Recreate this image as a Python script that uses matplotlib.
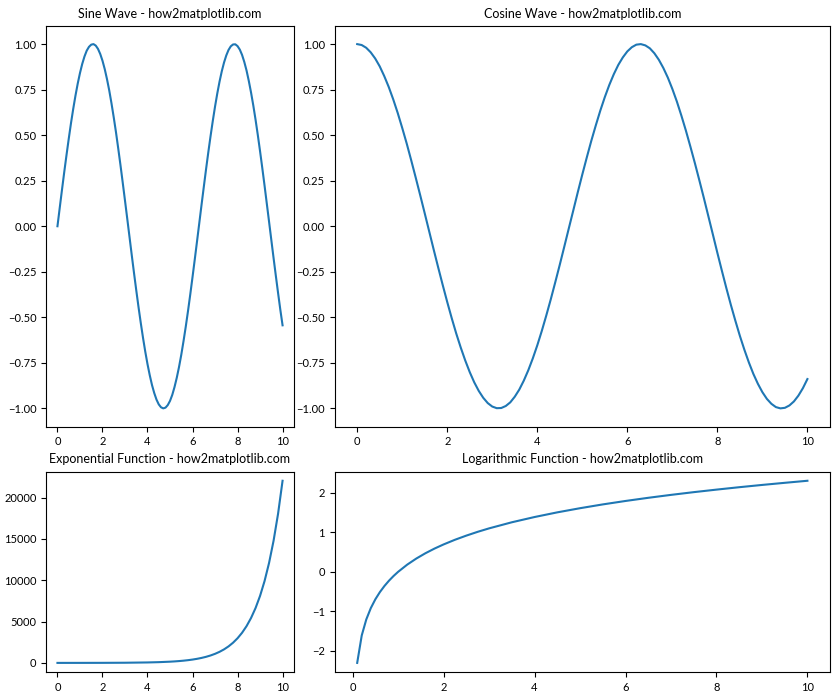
import matplotlib
matplotlib.use("Agg")

import matplotlib.pyplot as plt

plt.rcParams["font.family"] = ["Lato", "DejaVu Sans"]
plt.rcParams["font.size"] = 8

x = [i / 10 for i in range(101)]
sine = [0.000, 0.100, 0.199, 0.296, 0.389, 0.479, 0.565, 0.644, 0.717, 0.783,
        0.841, 0.891, 0.932, 0.964, 0.985, 0.997, 1.000, 0.992, 0.974, 0.946,
        0.909, 0.863, 0.808, 0.746, 0.675, 0.598, 0.516, 0.427, 0.335, 0.239,
        0.141, 0.042, -0.058, -0.158, -0.256, -0.351, -0.443, -0.530, -0.612, -0.688,
        -0.757, -0.818, -0.872, -0.916, -0.952, -0.978, -0.994, -1.000, -0.996, -0.982,
        -0.959, -0.926, -0.883, -0.832, -0.773, -0.706, -0.631, -0.551, -0.465, -0.374,
        -0.279, -0.182, -0.083, 0.017, 0.117, 0.215, 0.312, 0.405, 0.494, 0.578,
        0.657, 0.729, 0.794, 0.851, 0.899, 0.938, 0.968, 0.988, 0.998, 0.999,
        0.989, 0.970, 0.941, 0.902, 0.855, 0.798, 0.734, 0.663, 0.585, 0.501,
        0.412, 0.319, 0.223, 0.124, 0.025, -0.075, -0.174, -0.271, -0.366, -0.458,
        -0.544]
cosine = [1.000, 0.995, 0.980, 0.955, 0.921, 0.878, 0.825, 0.765, 0.697, 0.622,
          0.540, 0.454, 0.362, 0.267, 0.170, 0.071, -0.029, -0.129, -0.227, -0.323,
          -0.416, -0.505, -0.589, -0.666, -0.737, -0.801, -0.857, -0.904, -0.942, -0.971,
          -0.990, -0.999, -0.998, -0.987, -0.967, -0.936, -0.897, -0.848, -0.791, -0.726,
          -0.654, -0.575, -0.490, -0.401, -0.307, -0.211, -0.112, -0.012, 0.087, 0.187,
          0.284, 0.378, 0.469, 0.554, 0.635, 0.709, 0.776, 0.835, 0.886, 0.927,
          0.960, 0.983, 0.997, 1.000, 0.993, 0.977, 0.950, 0.914, 0.869, 0.816,
          0.754, 0.685, 0.608, 0.526, 0.438, 0.347, 0.252, 0.155, 0.055, -0.045,
          -0.146, -0.244, -0.340, -0.432, -0.519, -0.602, -0.678, -0.748, -0.811, -0.865,
          -0.911, -0.948, -0.975, -0.993, -1.000, -0.997, -0.984, -0.962, -0.930, -0.889,
          -0.839]

x_exp = [0, 1, 2, 3, 4, 4.5, 5.0, 5.2, 5.4, 5.6, 5.8, 6.0, 6.2, 6.4, 6.6, 6.8,
         7.0, 7.2, 7.4, 7.6, 7.8, 8.0, 8.2, 8.4, 8.6, 8.8, 9.0, 9.2, 9.4, 9.6,
         9.8, 10.0]
expo = [1, 2.7, 7.4, 20, 55, 90, 148, 181, 221, 270, 330, 403, 493, 602, 735,
        898, 1097, 1339, 1636, 1998, 2441, 2981, 3641, 4447, 5432, 6634, 8103,
        9897, 12088, 14765, 18034, 22026]

x_log = [0.1, 0.2, 0.3, 0.4, 0.5, 0.6, 0.7, 0.8, 0.9, 1.0, 1.2, 1.4, 1.6, 1.8,
         2.0, 2.25, 2.5, 2.75, 3.0, 3.5, 4.0, 4.5, 5.0, 5.5, 6.0, 6.5, 7.0,
         7.5, 8.0, 8.5, 9.0, 9.5, 10.0]
logv = [-2.303, -1.609, -1.204, -0.916, -0.693, -0.511, -0.357, -0.223, -0.105,
        0.000, 0.182, 0.336, 0.470, 0.588, 0.693, 0.811, 0.916, 1.012, 1.099,
        1.253, 1.386, 1.504, 1.609, 1.705, 1.792, 1.872, 1.946, 2.015, 2.079,
        2.140, 2.197, 2.251, 2.303]

fig = plt.figure(figsize=(8.4, 7), dpi=100)
gs = fig.add_gridspec(2, 2, width_ratios=[1, 2], height_ratios=[2, 1],
                      left=0.055, right=0.988, top=0.963, bottom=0.04,
                      wspace=0.11, hspace=0.15)

ax1 = fig.add_subplot(gs[0, 0])
ax1.plot(x, sine)
ax1.set_title("Sine Wave - how2matplotlib.com", fontsize=9)

ax2 = fig.add_subplot(gs[0, 1])
ax2.plot(x, cosine)
ax2.set_title("Cosine Wave - how2matplotlib.com", fontsize=9)

ax3 = fig.add_subplot(gs[1, 0])
ax3.plot(x_exp, expo)
ax3.set_title("Exponential Function - how2matplotlib.com", fontsize=9)

ax4 = fig.add_subplot(gs[1, 1])
ax4.plot(x_log, logv)
ax4.set_title("Logarithmic Function - how2matplotlib.com", fontsize=9)

for ax in (ax1, ax2, ax3, ax4):
    ax.set_xticks([0, 2, 4, 6, 8, 10])

plt.savefig("out.png", dpi=100)
plt.close()
